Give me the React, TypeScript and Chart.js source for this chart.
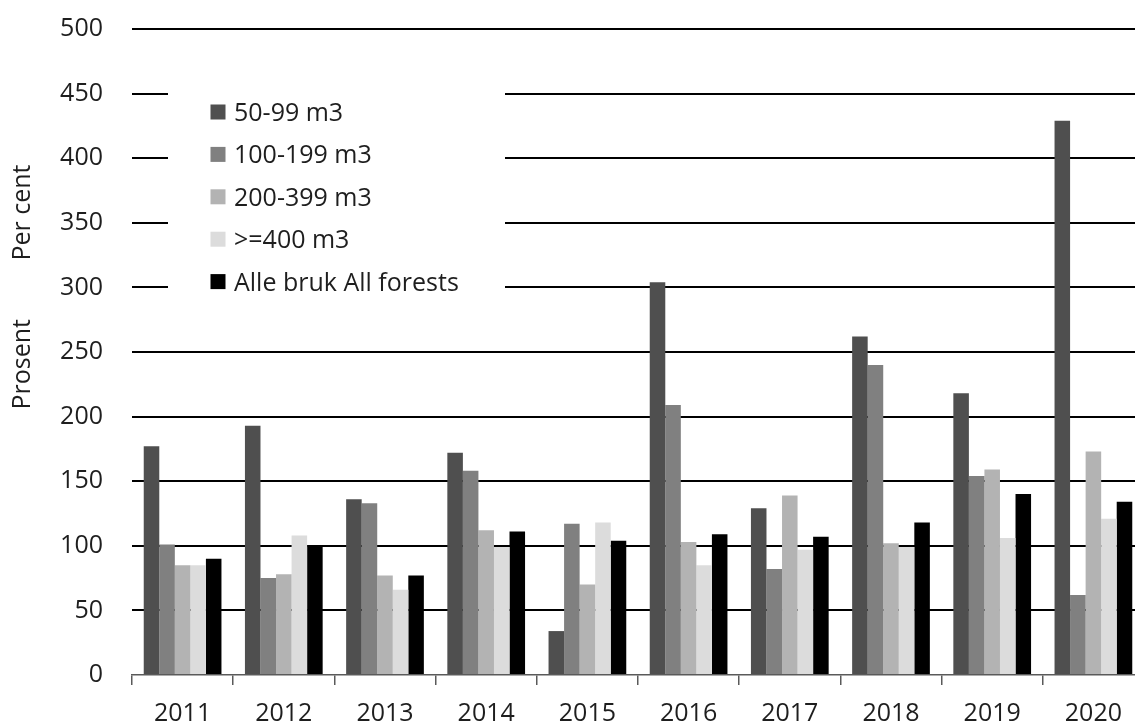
import React, { useEffect, useRef } from "react";
import { Chart, registerables } from "chart.js";

Chart.register(...registerables);

const years = ["2011", "2012", "2013", "2014", "2015", "2016", "2017", "2018", "2019", "2020"];
const s50to99 = [177, 193, 136, 172, 34, 304, 129, 262, 218, 429];
const s100to199 = [101, 75, 133, 158, 117, 209, 82, 240, 154, 62];
const s200to399 = [85, 78, 77, 112, 70, 103, 139, 102, 159, 173];
const s400plus = [85, 108, 66, 99, 118, 85, 97, 99, 106, 121];
const sAll = [90, 100, 77, 111, 104, 109, 107, 118, 140, 134];

const seriesLabels = ["50-99 m3", "100-199 m3", "200-399 m3", ">=400 m3", "Alle bruk All forests"];
const seriesColors = ["#4f4f4f", "#808080", "#b3b3b3", "#dcdcdc", "#000000"];
const yTitle = "                    Prosent         Per cent";

const FONT = "'Open Sans', sans-serif";

const insideLegend = {
  id: "insideLegend",
  beforeDatasetsDraw(chart: any) {
    const { ctx, chartArea } = chart;
    const left = chartArea.left;
    const top = chartArea.top;
    ctx.save();
    ctx.fillStyle = "#ffffff";
    ctx.fillRect(left + 36, top + 31, 337, 260);
    ctx.font = `25px ${FONT}`;
    ctx.textAlign = "left";
    ctx.textBaseline = "alphabetic";
    chart.data.datasets.forEach((ds: any, i: number) => {
      const cy = top + 83 + i * 42.4;
      ctx.fillStyle = ds.backgroundColor;
      ctx.fillRect(left + 78.5, cy - 7.5, 15, 15);
      ctx.fillStyle = "#1e1e1e";
      ctx.fillText(ds.label, left + 102, cy + 9);
    });
    ctx.restore();
  },
};

export default function App() {
  const ref = useRef<HTMLCanvasElement | null>(null);

  useEffect(() => {
    if (!ref.current) return;
    const datasets = [s50to99, s100to199, s200to399, s400plus, sAll].map((data, i) => ({
      label: seriesLabels[i],
      data,
      backgroundColor: seriesColors[i],
      borderWidth: 0,
      categoryPercentage: 0.768,
      barPercentage: 1.0,
    }));
    const chart = new Chart(ref.current, {
      type: "bar",
      data: { labels: years, datasets },
      plugins: [insideLegend],
      options: {
        animation: false,
        responsive: false,
        devicePixelRatio: 1,
        layout: { padding: { top: 29, right: 6, bottom: 0, left: 0 } },
        plugins: {
          legend: { display: false },
          tooltip: { enabled: false },
        },
        scales: {
          x: {
            afterFit: (s: any) => {
              s.height = 47;
            },
            grid: {
              offset: true,
              drawOnChartArea: false,
              drawTicks: true,
              tickLength: 10,
              color: "#5a5a5a",
              lineWidth: 1.5,
            },
            border: { display: true, color: "#5a5a5a", width: 1.5 },
            ticks: {
              font: { family: FONT, size: 25 },
              color: "#1e1e1e",
              padding: 14,
              maxRotation: 0,
            },
          },
          y: {
            min: 0,
            max: 500,
            afterFit: (s: any) => {
              s.width = 132;
              s.paddingTop = 0;
              s.paddingBottom = 0;
            },
            ticks: {
              stepSize: 50,
              font: { family: FONT, size: 25 },
              color: "#1e1e1e",
              padding: 29,
            },
            grid: {
              drawTicks: false,
              color: (c: any) => (c.tick && c.tick.value === 0 ? "rgba(0,0,0,0)" : "#000000"),
              lineWidth: 2,
            },
            border: { display: false },
            title: {
              display: true,
              text: yTitle,
              font: { family: FONT, size: 25 },
              color: "#1e1e1e",
              padding: { top: 8, bottom: 0 },
            },
          },
        },
      },
    });
    return () => chart.destroy();
  }, []);

  return (
    <div
      style={{
        position: "absolute",
        left: 0,
        top: 0,
        width: 1135,
        height: 722,
        overflow: "hidden",
        background: "#ffffff",
      }}
    >
      <canvas ref={ref} width={1150} height={722} style={{ width: 1150, height: 722, display: "block" }} />
    </div>
  );
}
